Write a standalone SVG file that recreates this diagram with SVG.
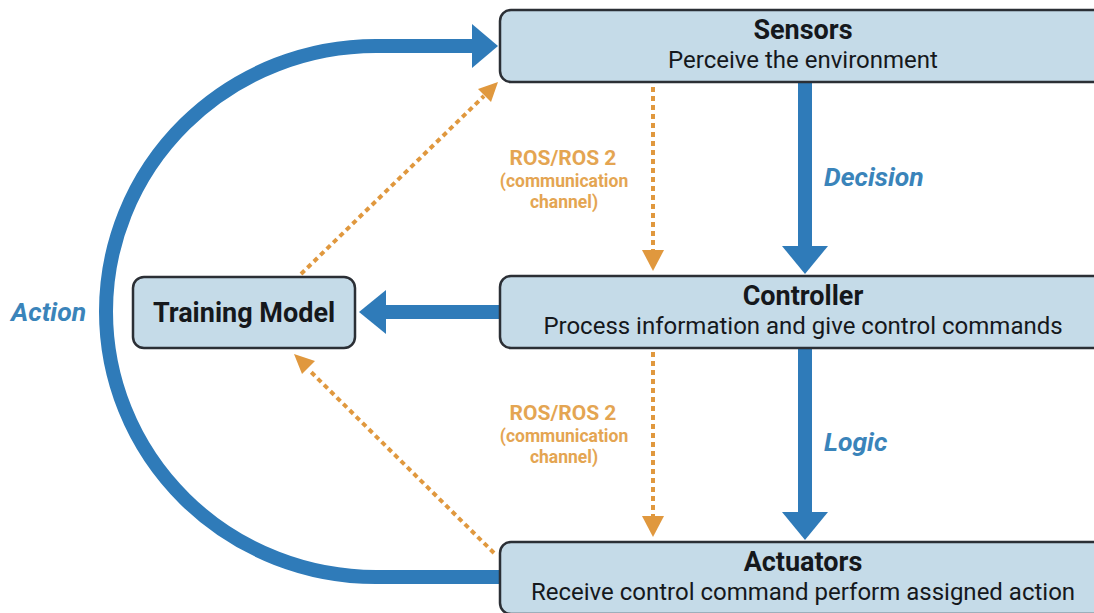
<svg xmlns="http://www.w3.org/2000/svg" width="1094" height="613" viewBox="0 0 1094 613">
<style>
.box{fill:#c5dbe8;stroke:#2b2f35;stroke-width:2.5}
.title{font-family:Roboto,"Liberation Sans",sans-serif;font-weight:bold;font-size:27px;fill:#15181c;text-anchor:middle}
.sub{font-family:Roboto,"Liberation Sans",sans-serif;font-size:24px;fill:#15181c;text-anchor:middle}
.blue{fill:none;stroke:#2f7bb9;stroke-width:14}
.bhead{fill:#2f7bb9}
.org{fill:none;stroke:#e0983e;stroke-width:4;stroke-dasharray:5 4}
.ohead{fill:#e0983e}
.blab{font-family:Roboto,"Liberation Sans",sans-serif;font-weight:bold;font-style:italic;font-size:26.5px;fill:#3a84ba}
.olab{font-family:Roboto,"Liberation Sans",sans-serif;font-weight:bold;fill:#e4a552;text-anchor:middle}
</style>
<rect width="1094" height="613" fill="#ffffff"/>
<g id="connectors">
  <path class="blue" d="M500 577 L376 577 A270 265.5 0 0 1 376 46 L476 46"/>
  <polygon class="bhead" points="472,24 498,46 472,68"/>
  <line class="blue" x1="805" y1="82" x2="805" y2="250"/>
  <polygon class="bhead" points="782,246 828,246 805,274"/>
  <line class="blue" x1="805" y1="348" x2="805" y2="514"/>
  <polygon class="bhead" points="782,512 828,512 805,540"/>
  <line class="blue" x1="500" y1="312" x2="380" y2="312"/>
  <polygon class="bhead" points="386,290 386,334 359,312"/>
  <line class="org" x1="653" y1="87" x2="653" y2="252"/>
  <polygon class="ohead" points="642,250 664,250 653,271"/>
  <line class="org" x1="653" y1="352" x2="653" y2="518"/>
  <polygon class="ohead" points="642,516 664,516 653,537"/>
  <line class="org" x1="301" y1="274" x2="484" y2="96"/>
  <polygon class="ohead" points="498,82 478,89 491,102"/>
  <line class="org" x1="494" y1="553" x2="309" y2="370"/>
  <polygon class="ohead" points="294,354 302,374 315,361"/>
  <text class="blab" x="11" y="321">Action</text>
  <text class="blab" x="824" y="186">Decision</text>
  <text class="blab" x="824" y="451">Logic</text>
  <text class="olab" x="563" y="165" font-size="21">ROS/ROS 2</text>
  <text class="olab" x="564" y="187" font-size="17.5">(communication</text>
  <text class="olab" x="564" y="208" font-size="17.5">channel)</text>
  <text class="olab" x="563" y="420" font-size="21">ROS/ROS 2</text>
  <text class="olab" x="564" y="442" font-size="17.5">(communication</text>
  <text class="olab" x="564" y="463" font-size="17.5">channel)</text>
</g>
<g id="sensors">
  <rect class="box" x="500" y="10" width="610" height="72" rx="11"/>
  <text class="title" x="803" y="39">Sensors</text>
  <text class="sub" x="803" y="68">Perceive the environment</text>
</g>
<g id="controller">
  <rect class="box" x="500" y="276" width="610" height="72" rx="11"/>
  <text class="title" x="803" y="305">Controller</text>
  <text class="sub" x="803" y="334">Process information and give control commands</text>
</g>
<g id="actuators">
  <rect class="box" x="500" y="542" width="610" height="72" rx="11"/>
  <text class="title" x="803" y="571">Actuators</text>
  <text class="sub" x="803" y="600">Receive control command perform assigned action</text>
</g>
<g id="training-model">
  <rect class="box" x="133" y="277" width="222" height="71" rx="11"/>
  <text class="title" x="244" y="322">Training Model</text>
</g>
</svg>
